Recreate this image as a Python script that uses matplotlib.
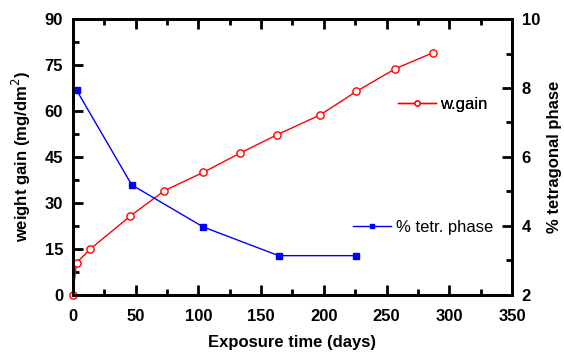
import matplotlib.pyplot as plt
from matplotlib.ticker import MultipleLocator

plt.rcParams['font.family'] = ['Liberation Sans', 'DejaVu Sans']

# weight gain data
days_w = [0, 3, 14, 46, 73, 104, 133, 163, 197, 226, 257, 287]
wgain = [0, 10.5, 15, 25.8, 34, 40, 46.2, 52.3, 58.7, 66.4, 73.8, 79]

# tetragonal phase data
days_t = [3, 47, 104, 164, 226]
tetr = [7.94, 5.19, 3.97, 3.14, 3.14]

fig = plt.figure(figsize=(5.64, 3.52), dpi=100)
ax = fig.add_axes([0.129, 0.162, 0.779, 0.784])
ax2 = ax.twinx()

l1, = ax.plot(days_w, wgain, '-o', color='red', lw=1.0, ms=5.2,
              mfc='white', mec='red', mew=1.0, label='w.gain', zorder=3,
              clip_on=False)
l2, = ax2.plot(days_t, tetr, '-s', color='blue', lw=1.0, ms=4.5,
               mfc='blue', mec='blue', label='% tetr. phase', clip_on=False)

ax.set_xlim(0, 350)
ax.set_ylim(0, 90)
ax2.set_ylim(2, 10)
ax.xaxis.set_major_locator(MultipleLocator(50))
ax.xaxis.set_minor_locator(MultipleLocator(25))
ax.yaxis.set_major_locator(MultipleLocator(15))
ax.yaxis.set_minor_locator(MultipleLocator(7.5))
ax2.yaxis.set_major_locator(MultipleLocator(2))
ax2.yaxis.set_minor_locator(MultipleLocator(1))

for a in (ax, ax2):
    for s in a.spines.values():
        s.set_linewidth(2)
ax.tick_params(axis='x', which='both', direction='in', top=True, width=2)
ax.tick_params(axis='y', which='both', direction='in', width=2)
ax2.tick_params(axis='y', which='both', direction='in', width=2)
for a in (ax, ax2):
    a.tick_params(which='major', length=7, labelsize=12, pad=7)
    a.tick_params(which='minor', length=4)
ax.tick_params(axis='x', pad=10)
for lab in ax.get_xticklabels() + ax.get_yticklabels() + ax2.get_yticklabels():
    lab.set_fontweight('bold')

ax.set_xlabel('Exposure time (days)', fontsize=12, fontweight='bold', labelpad=8)
ax.set_ylabel('weight gain (mg/dm$^2$)', fontsize=12, fontweight='bold', labelpad=8)
ax2.set_ylabel('% tetragonal phase', fontsize=12, fontweight='bold', labelpad=5)

leg1 = ax.legend(handles=[l1], loc='center left', bbox_to_anchor=(0.74, 0.692),
                 frameon=False, fontsize=12, handlelength=2.3, handletextpad=0.25,
                 markerscale=0.7, borderaxespad=0, borderpad=0)
ax.add_artist(leg1)
ax2.legend(handles=[l2], loc='center left', bbox_to_anchor=(0.638, 0.246),
           frameon=False, fontsize=12, handlelength=2.3, handletextpad=0.25,
           markerscale=0.7, borderaxespad=0, borderpad=0)

fig.savefig('out.png', dpi=100)
